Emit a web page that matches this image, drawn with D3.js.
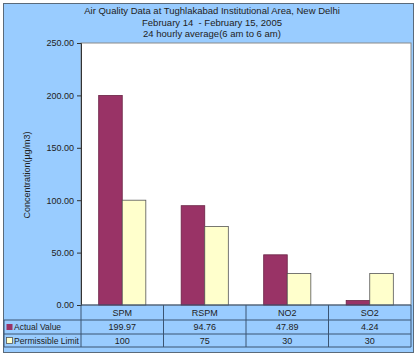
<!DOCTYPE html>
<html>
<head>
<meta charset="utf-8">
<script src="https://cdn.jsdelivr.net/npm/d3@7"></script>
<style>
  body { margin: 0; background: #fff; }
  svg { display: block; font-family: "Liberation Sans", Arial, sans-serif; }
</style>
</head>
<body>
<div id="chart"></div>
<script>
// chart values
var categories = ["SPM", "RSPM", "NO2", "SO2"];
var actualValues = [199.97, 94.76, 47.89, 4.24];
var limitValues = [100, 75, 30, 30];
var actualLabels = ["199.97", "94.76", "47.89", "4.24"];
var limitLabels = ["100", "75", "30", "30"];
var yTicks = [0, 50, 100, 150, 200, 250];
var seriesNames = ["Actual Value", "Permissible Limit"];
var titleLines = ["Air Quality Data at Tughlakabad Institutional Area, New Delhi",
                  "February 14  - February 15, 2005",
                  "24 hourly average(6 am to 6 am)"];

var W = 420, H = 358;
var plot = {left: 81, right: 411, top: 43, bottom: 305};
var rowH = [15, 14, 13];
var colors = ["#993366", "#FFFFCC"];
var gridCol = "#3b5573";

var svg = d3.select("#chart").append("svg").attr("width", W).attr("height", H);

//outer frame
svg.append("rect").attr("x", 3.5).attr("y", 3.5).attr("width", 410).attr("height", 349)
  .attr("fill", "#99CCFF").attr("stroke", "#5a6a7a").attr("stroke-width", 1);

//title
svg.append("g").selectAll("text").data(titleLines).enter().append("text")
  .attr("x", 212).attr("y", function(d, i) { return 14 + i * 11.5; })
  .attr("text-anchor", "middle").attr("font-size", 9.5).attr("fill", "#222")
  .style("white-space", "pre")
  .text(function(d) { return d; });

var x0 = d3.scaleBand().domain(categories).range([plot.left, plot.right]).paddingInner(0).paddingOuter(0);
var x1 = d3.scaleBand().domain([0, 1]).range([0, x0.bandwidth()]).paddingInner(0).paddingOuter(0.75);
var y = d3.scaleLinear().domain([0, 250]).range([plot.bottom, plot.top]);

//plot area
svg.append("rect").attr("x", plot.left).attr("y", plot.top)
  .attr("width", plot.right - plot.left).attr("height", plot.bottom - plot.top)
  .attr("fill", "#fff").attr("stroke", "#8a8a8a").attr("stroke-width", 1);

//bars
var series = [actualValues, limitValues];
series.forEach(function(vals, s) {
  svg.append("g").selectAll("rect").data(vals).enter().append("rect")
    .attr("x", function(d, i) { return x0(categories[i]) + x1(s); })
    .attr("y", function(d) { return y(d); })
    .attr("width", x1.bandwidth())
    .attr("height", function(d) { return plot.bottom - y(d); })
    .attr("fill", colors[s])
    .attr("stroke", s === 1 ? "#555" : "#6a2244")
    .attr("stroke-width", 0.8);
});

//y axis
var yAxis = d3.axisLeft(y).tickValues(yTicks).tickSize(4).tickFormat(d3.format(".2f"));
var ya = svg.append("g").attr("transform", "translate(" + plot.left + ",0)").call(yAxis);
ya.select(".domain").attr("stroke", "#333");
ya.selectAll(".tick line").attr("stroke", "#333");
ya.selectAll("text").attr("font-size", 9).attr("fill", "#222")
  .attr("font-family", "Liberation Sans, Arial, sans-serif").attr("x", -7);

svg.append("text").attr("transform", "translate(30,175) rotate(-90)")
  .attr("text-anchor", "middle").attr("font-size", 9).attr("fill", "#222")
  .text("Concentration(µg/m3)");

//data table
var t0 = plot.bottom, t1 = t0 + rowH[0], t2 = t1 + rowH[1], t3 = t2 + rowH[2];
var tbl = svg.append("g").attr("stroke", gridCol).attr("stroke-width", 1);
tbl.append("line").attr("x1", plot.left).attr("x2", plot.right).attr("y1", t0).attr("y2", t0);
[t1, t2, t3].forEach(function(yy) {
  tbl.append("line").attr("x1", 4).attr("x2", plot.right).attr("y1", yy).attr("y2", yy);
});
tbl.append("line").attr("x1", 4).attr("x2", 4).attr("y1", t1).attr("y2", t3);
categories.forEach(function(c) {
  tbl.append("line").attr("x1", x0(c)).attr("x2", x0(c)).attr("y1", t0).attr("y2", t3);
});
tbl.append("line").attr("x1", plot.right).attr("x2", plot.right).attr("y1", t0).attr("y2", t3);

var rows = [categories, actualLabels, limitLabels];
var rowTop = [t0, t1, t2];
rows.forEach(function(r, k) {
  svg.append("g").selectAll("text").data(r).enter().append("text")
    .attr("x", function(d, i) { return x0(categories[i]) + x0.bandwidth() / 2; })
    .attr("y", rowTop[k] + rowH[k] / 2 + 3.3)
    .attr("text-anchor", "middle").attr("font-size", 9).attr("fill", "#222")
    .text(function(d) { return d; });
});

//legend keys
seriesNames.forEach(function(n, s) {
  var ry = rowTop[s + 1] + rowH[s + 1] / 2;
  svg.append("rect").attr("x", 6.5).attr("y", ry - 3).attr("width", 6).attr("height", 6)
    .attr("fill", colors[s]).attr("stroke", s === 1 ? "#555" : "none").attr("stroke-width", 0.8);
  svg.append("text").attr("x", 14).attr("y", ry + 3.2).attr("font-size", 8.5).attr("fill", "#222")
    .attr("textLength", s === 1 ? 65 : null).attr("lengthAdjust", "spacingAndGlyphs").text(n);
});
</script>
</body>
</html>
